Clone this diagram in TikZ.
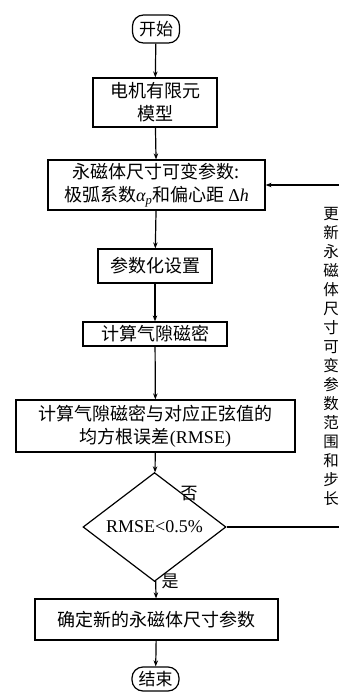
\documentclass[tikz,border=0pt]{standalone}
\usepackage{fontspec}
\setmainfont{Liberation Serif}
\newfontfamily\cjk{Noto Sans CJK SC}
\usetikzlibrary{shapes.geometric,arrows.meta}
\tikzset{
  box/.style={draw, line width=1.2pt, inner sep=0pt, align=center, font=\cjk\fontsize{18}{23}\selectfont},
  term/.style={draw, line width=1.2pt, rounded corners=11pt, inner sep=0pt, minimum width=47pt, minimum height=28pt, font=\cjk\fontsize{17}{22}\selectfont},
  dec/.style={draw, line width=1.2pt, diamond, inner sep=0pt, minimum width=143pt, minimum height=70pt, font=\fontsize{18}{20}\selectfont},
  flow/.style={line width=1.2pt, -{Stealth[length=6pt,width=4.5pt]}},
  lab/.style={font=\cjk\fontsize{17}{20}\selectfont}
}
\begin{document}
\begin{tikzpicture}[x=1pt,y=-1pt]
\useasboundingbox (0,0) rectangle (339,699);
\clip (0,0) rectangle (339,699);
\node[term] (start) at (156,29) {开始};
\node[box, minimum width=124pt, minimum height=49pt] (fem) at (155,102.5) {电机有限元\\模型};
\node[box, minimum width=217pt, minimum height=50pt] (var) at (156.5,185) {永磁体尺寸可变参数:\\极弧系数{\rmfamily\itshape α\textsubscript{p}}和偏心距 {\rmfamily Δ\itshape h}};
\node[box, minimum width=114pt, minimum height=34pt] (par) at (155,266) {参数化设置};
\node[box, minimum width=144pt, minimum height=24pt] (calc) at (155,334) {计算气隙磁密};
\node[box, minimum width=279pt, minimum height=52pt] (rmse) at (155.5,426) {计算气隙磁密与对应正弦值的\\均方根误差{\rmfamily(RMSE)}};
\node[dec] (dec) at (154.5,527) {RMSE<0.5\%};
\node[box, minimum width=243pt, minimum height=41pt] (new) at (156.5,619.5) {确定新的永磁体尺寸参数};
\node[term, minimum height=24pt] (end) at (155.5,679) {结束};
\node[lab] (no) at (189,494) {否};
\node[lab] (yes) at (170,581) {是};
\coordinate (c1) at (345,527);
\coordinate (c2) at (345,185);
\node[font=\cjk\fontsize{15.5}{19}\selectfont, align=center, inner sep=0pt] (upd) at (331,356) {更\\新\\永\\磁\\体\\尺\\寸\\可\\变\\参\\数\\范\\围\\和\\步\\长};
\draw[flow] (start) -- (fem);
\draw[flow] (fem) -- (var);
\draw[flow] (var) -- (par);
\draw[flow] (par) -- (calc);
\draw[flow] (calc) -- (rmse);
\draw[flow] (rmse) -- (dec);
\draw[flow] (dec) -- (new);
\draw[flow] (new) -- (end);
\draw[flow] (dec.east) -- (c1) -- (c2) -- (var.east);
\end{tikzpicture}
\end{document}
